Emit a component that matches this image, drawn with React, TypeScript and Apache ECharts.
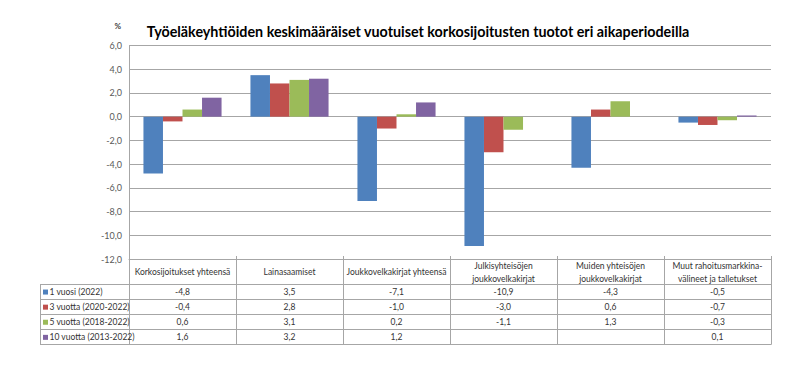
import React, { useEffect, useRef } from "react";
import * as echarts from "echarts";

const categories = [
  "Korkosijoitukset yhteensä",
  "Lainasaamiset",
  "Joukkovelkakirjat yhteensä",
  "Julkisyhteisöjen\njoukkovelkakirjat",
  "Muiden yhteisöjen\njoukkovelkakirjat",
  "Muut rahoitusmarkkina-\nvälineet ja talletukset",
];
const seriesNames = [
  "1 vuosi (2022)",
  "3 vuotta (2020-2022)",
  "5 vuotta (2018-2022)",
  "10 vuotta (2013-2022)",
];
const oneYear = [-4.8, 3.5, -7.1, -10.9, -4.3, -0.5];
const threeYears = [-0.4, 2.8, -1.0, -3.0, 0.6, -0.7];
const fiveYears = [0.6, 3.1, 0.2, -1.1, 1.3, -0.3];
const tenYears = [1.6, 3.2, 1.2, null, null, 0.1];
const seriesData = [oneYear, threeYears, fiveYears, tenYears];
const colors = ["#4F81BD", "#C0504D", "#9BBB59", "#8064A2"];
const title =
  "Työeläkeyhtiöiden keskimääräiset vuotuiset korkosijoitusten tuotot eri aikaperiodeilla";

const W = 790;
const H = 365;
const gridLeft = 129;
const gridRight = 771;
const gridTop = 45.5;
const gridBottom = 259;
const headerBottom = 284;
const rowH = 15.1;
const legendLeft = 40;
const FONT = "Lato, 'Liberation Sans', sans-serif";
const borderColor = "#a6a6a6";
const tableFont = 8.5;

const fmt = (v: number | null) =>
  v === null || v === undefined ? "" : v.toFixed(1).replace(".", ",");

export default function App() {
  const ref = useRef<HTMLDivElement>(null);
  useEffect(() => {
    if (!ref.current) return;
    const chart = echarts.init(ref.current, undefined, { renderer: "svg" });
    const colW = (gridRight - gridLeft) / categories.length;
    const tableBottom = headerBottom + rowH * seriesNames.length;
    const graphics: any[] = [];
    for (let i = 0; i <= categories.length; i++) {
      const x = Math.round(gridLeft + i * colW) + 0.5;
      graphics.push({
        type: "line",
        shape: { x1: x, y1: gridBottom - 3, x2: x, y2: tableBottom },
        style: { stroke: borderColor, lineWidth: 1 },
        silent: true,
      });
    }
    graphics.push({
      type: "line",
      shape: { x1: legendLeft + 0.5, y1: headerBottom, x2: legendLeft + 0.5, y2: tableBottom },
      style: { stroke: borderColor, lineWidth: 1 },
    });
    for (let r = 0; r <= seriesNames.length; r++) {
      const y = Math.round(headerBottom + r * rowH) + 0.5;
      graphics.push({
        type: "line",
        shape: { x1: legendLeft, y1: y, x2: gridRight + 0.5, y2: y },
        style: { stroke: borderColor, lineWidth: 1 },
      });
    }
    seriesData.forEach((arr, r) => {
      arr.forEach((v, c) => {
        graphics.push({
          type: "text",
          x: gridLeft + (c + 0.5) * colW,
          y: headerBottom + (r + 0.5) * rowH + 0.5,
          style: {
            text: fmt(v),
            align: "center",
            verticalAlign: "middle",
            font: `${tableFont}px ${FONT}`,
            fill: "#333",
          },
        });
      });
      graphics.push({
        type: "rect",
        shape: { x: legendLeft + 3, y: headerBottom + (r + 0.5) * rowH - 2, width: 5, height: 5 },
        style: { fill: colors[r] },
      });
      graphics.push({
        type: "text",
        x: legendLeft + 9.5,
        y: headerBottom + (r + 0.5) * rowH + 0.5,
        style: {
          text: seriesNames[r],
          align: "left",
          verticalAlign: "middle",
          font: `${tableFont}px ${FONT}`,
          fill: "#333",
        },
      });
    });
    graphics.push({
      type: "text",
      x: 121,
      y: 26,
      style: {
        text: "%",
        align: "right",
        verticalAlign: "middle",
        font: `bold 8px ${FONT}`,
        fill: "#404040",
      },
    });
    graphics.push({
      type: "text",
      x: 418,
      y: 31,
      style: {
        text: title,
        align: "center",
        verticalAlign: "middle",
        font: `bold 14.3px ${FONT}`,
        fill: "#000",
      },
    });

    chart.setOption({
      animation: false,
      grid: {
        left: gridLeft,
        right: W - gridRight,
        top: gridTop,
        bottom: H - gridBottom,
        containLabel: false,
      },
      xAxis: {
        type: "category",
        data: categories,
        position: "bottom",
        axisLine: { onZero: false, lineStyle: { color: borderColor } },
        axisTick: { show: false },
        axisLabel: {
          interval: 0,
          margin: 13,
          verticalAlign: "middle",
          lineHeight: 13,
          fontSize: tableFont,
          fontFamily: FONT,
          color: "#333",
        },
      },
      yAxis: {
        type: "value",
        min: -12,
        max: 6,
        interval: 2,
        axisLine: { show: true, lineStyle: { color: borderColor } },
        axisTick: { show: false },
        splitLine: { lineStyle: { color: borderColor } },
        axisLabel: {
          formatter: (v: number) => fmt(v),
          fontSize: 9,
          fontFamily: FONT,
          color: "#595959",
          margin: 7,
        },
      },
      series: seriesData.map((d, i) => ({
        name: seriesNames[i],
        type: "bar",
        data: d,
        itemStyle: { color: colors[i] },
        barGap: "0%",
        barCategoryGap: "27%",
      })),
      graphic: graphics,
    });
    return () => chart.dispose();
  }, []);
  return (
    <div
      ref={ref}
      style={{ position: "fixed", left: 0, top: 0, width: W, height: H, background: "#fff" }}
    />
  );
}
